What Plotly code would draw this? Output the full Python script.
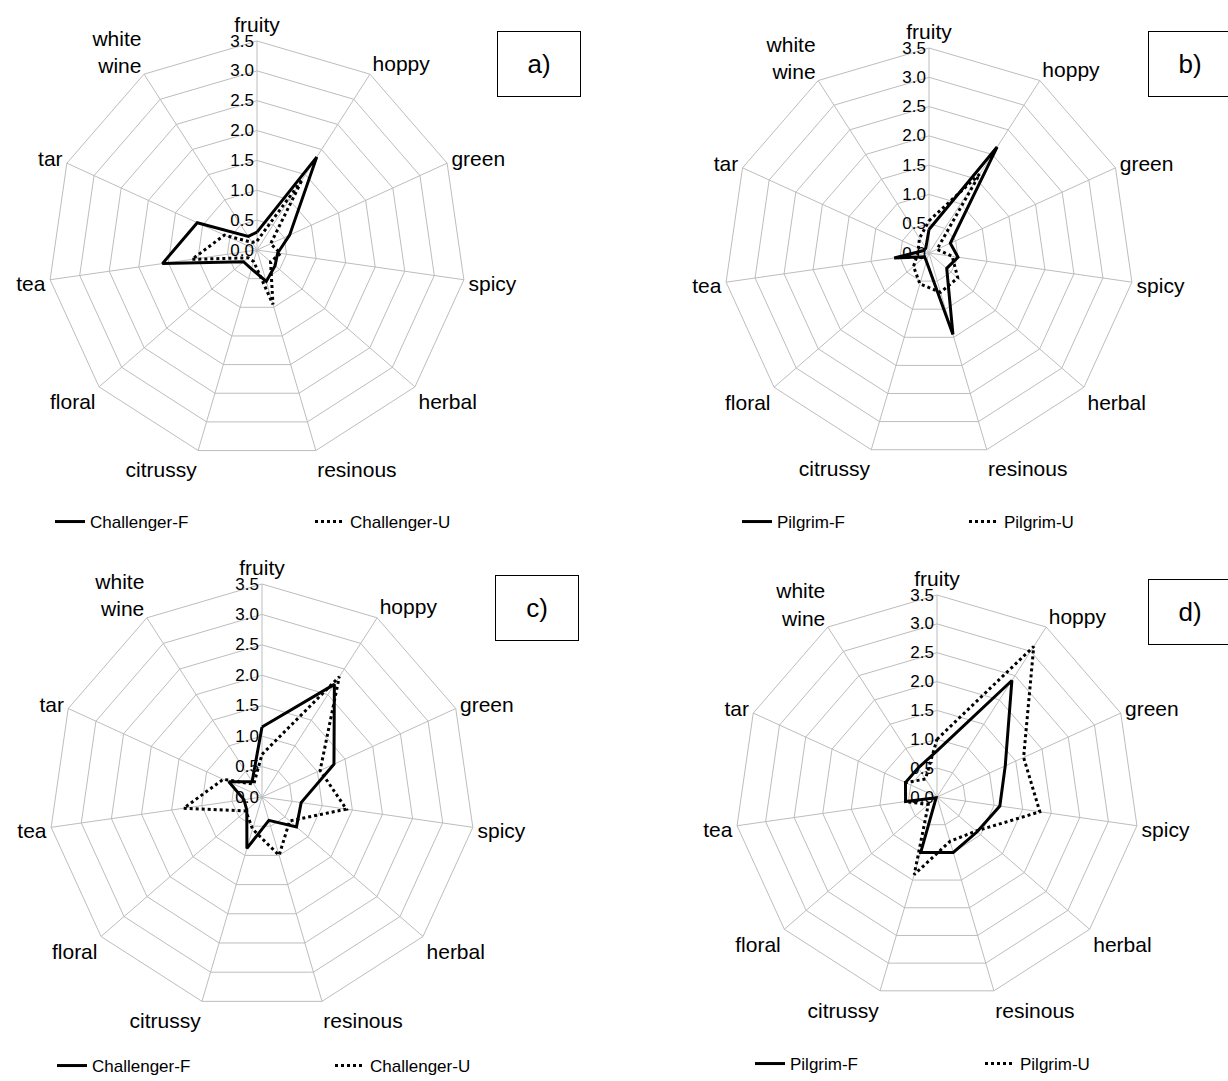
import plotly.graph_objects as go

categories = ["fruity", "hoppy", "green", "spicy", "herbal", "resinous",
              "citrussy", "floral", "tea", "tar", "white<br>wine"]
tick_vals = [0, 0.5, 1.0, 1.5, 2.0, 2.5, 3.0, 3.5]
tick_text = ["0.0", "0.5", "1.0", "1.5", "2.0", "2.5", "3.0", "3.5"]

challenger_F_a = [0.30, 1.85, 0.60, 0.35, 0.40, 0.55, 0.33, 0.30, 1.60, 1.10, 0.27]
challenger_U_a = [0.15, 1.40, 0.25, 0.40, 0.30, 0.95, 0.20, 0.20, 1.10, 0.60, 0.15]
pilgrim_F_b = [0.40, 2.15, 0.40, 0.50, 0.40, 1.45, 0.15, 0.10, 0.60, 0.10, 0.10]
pilgrim_U_b = [0.55, 1.60, 0.15, 0.40, 0.65, 0.70, 0.55, 0.35, 0.20, 0.20, 0.30]
challenger_F_c = [1.15, 2.20, 1.30, 0.65, 0.75, 0.40, 0.88, 0.33, 0.30, 0.60, 0.30]
challenger_U_c = [0.70, 2.35, 1.05, 1.40, 0.60, 1.00, 0.55, 0.35, 1.30, 0.70, 0.25]
pilgrim_F_d = [0.80, 2.40, 1.30, 1.10, 0.92, 1.00, 1.00, 0.02, 0.55, 0.60, 0.60]
pilgrim_U_d = [1.00, 3.10, 1.65, 1.80, 0.90, 0.80, 1.40, 0.20, 0.55, 0.60, 0.37]

panels = [
    ("polar", "legend", "Challenger-F", challenger_F_a, "Challenger-U", challenger_U_a),
    ("polar2", "legend2", "Pilgrim-F", pilgrim_F_b, "Pilgrim-U", pilgrim_U_b),
    ("polar3", "legend3", "Challenger-F", challenger_F_c, "Challenger-U", challenger_U_c),
    ("polar4", "legend4", "Pilgrim-F", pilgrim_F_d, "Pilgrim-U", pilgrim_U_d),
]

W, H = 1228, 1081
FONT = "Arial, Liberation Sans, sans-serif"
GRID = "#bdbdbd"

fig = go.Figure()
for sub, leg, nF, vF, nU, vU in panels:
    theta = categories + [categories[0]]
    fig.add_trace(go.Scatterpolar(r=vF + [vF[0]], theta=theta, mode="lines", name=nF,
                                  line=dict(color="black", width=3), subplot=sub, legend=leg))
    fig.add_trace(go.Scatterpolar(r=vU + [vU[0]], theta=theta, mode="lines", name=nU,
                                  line=dict(color="black", width=3, dash="dot"), subplot=sub, legend=leg))

def dom(cx, cy, R):
    return dict(x=[(cx - R) / W, (cx + R) / W], y=[1 - (cy + R) / H, 1 - (cy - R) / H])

centers = {"polar": (257, 250, 209), "polar2": (929, 253, 205),
           "polar3": (262, 797, 213), "polar4": (937, 797, 202)}

layout = dict(width=W, height=H, margin=dict(l=0, r=0, t=0, b=0, autoexpand=False),
              paper_bgcolor="white", plot_bgcolor="white",
              font=dict(family=FONT, color="black"), showlegend=True)
for sub, (cx, cy, R) in centers.items():
    layout[sub] = dict(
        domain=dom(cx, cy, R), gridshape="linear", bgcolor="white",
        radialaxis=dict(range=[0, 3.5], tickvals=tick_vals, ticktext=tick_text,
                        angle=90, side="counterclockwise", showline=False,
                        gridcolor=GRID, gridwidth=1, ticks="", tickangle=90,
                        tickfont=dict(size=17, family=FONT, color="black")),
        angularaxis=dict(rotation=90, direction="clockwise", categoryorder="array",
                         categoryarray=categories, showline=True, linecolor=GRID,
                         linewidth=1, gridcolor=GRID, gridwidth=1, ticks="",
                         tickfont=dict(size=21, family=FONT, color="black")),
    )

legpos = {"legend": (50, 522, 215), "legend2": (737, 522, 182),
          "legend3": (52, 1066, 233), "legend4": (750, 1064, 185)}
for leg, (lx, ly, ew) in legpos.items():
    layout[leg] = dict(orientation="h", x=lx / W, y=1 - ly / H, xanchor="left", yanchor="middle",
                       bgcolor="rgba(0,0,0,0)", font=dict(size=17, family=FONT, color="black"),
                       entrywidth=ew, entrywidthmode="pixels", itemwidth=30)

fig.update_layout(**layout)

boxes = [("a)", 539, 64), ("b)", 1190, 64), ("c)", 537, 608), ("d)", 1190, 612)]
for txt, bx, by in boxes:
    fig.add_annotation(text=txt, x=bx / W, y=1 - by / H, xref="paper", yref="paper",
                       xanchor="center", yanchor="middle", showarrow=False,
                       font=dict(size=26, family=FONT, color="black"),
                       width=80, height=62, bordercolor="black", borderwidth=1,
                       bgcolor="white")

fig.write_html("out.html", config={"displayModeBar": False},
               post_script="document.body.style.margin='0';document.body.style.overflow='hidden';")
